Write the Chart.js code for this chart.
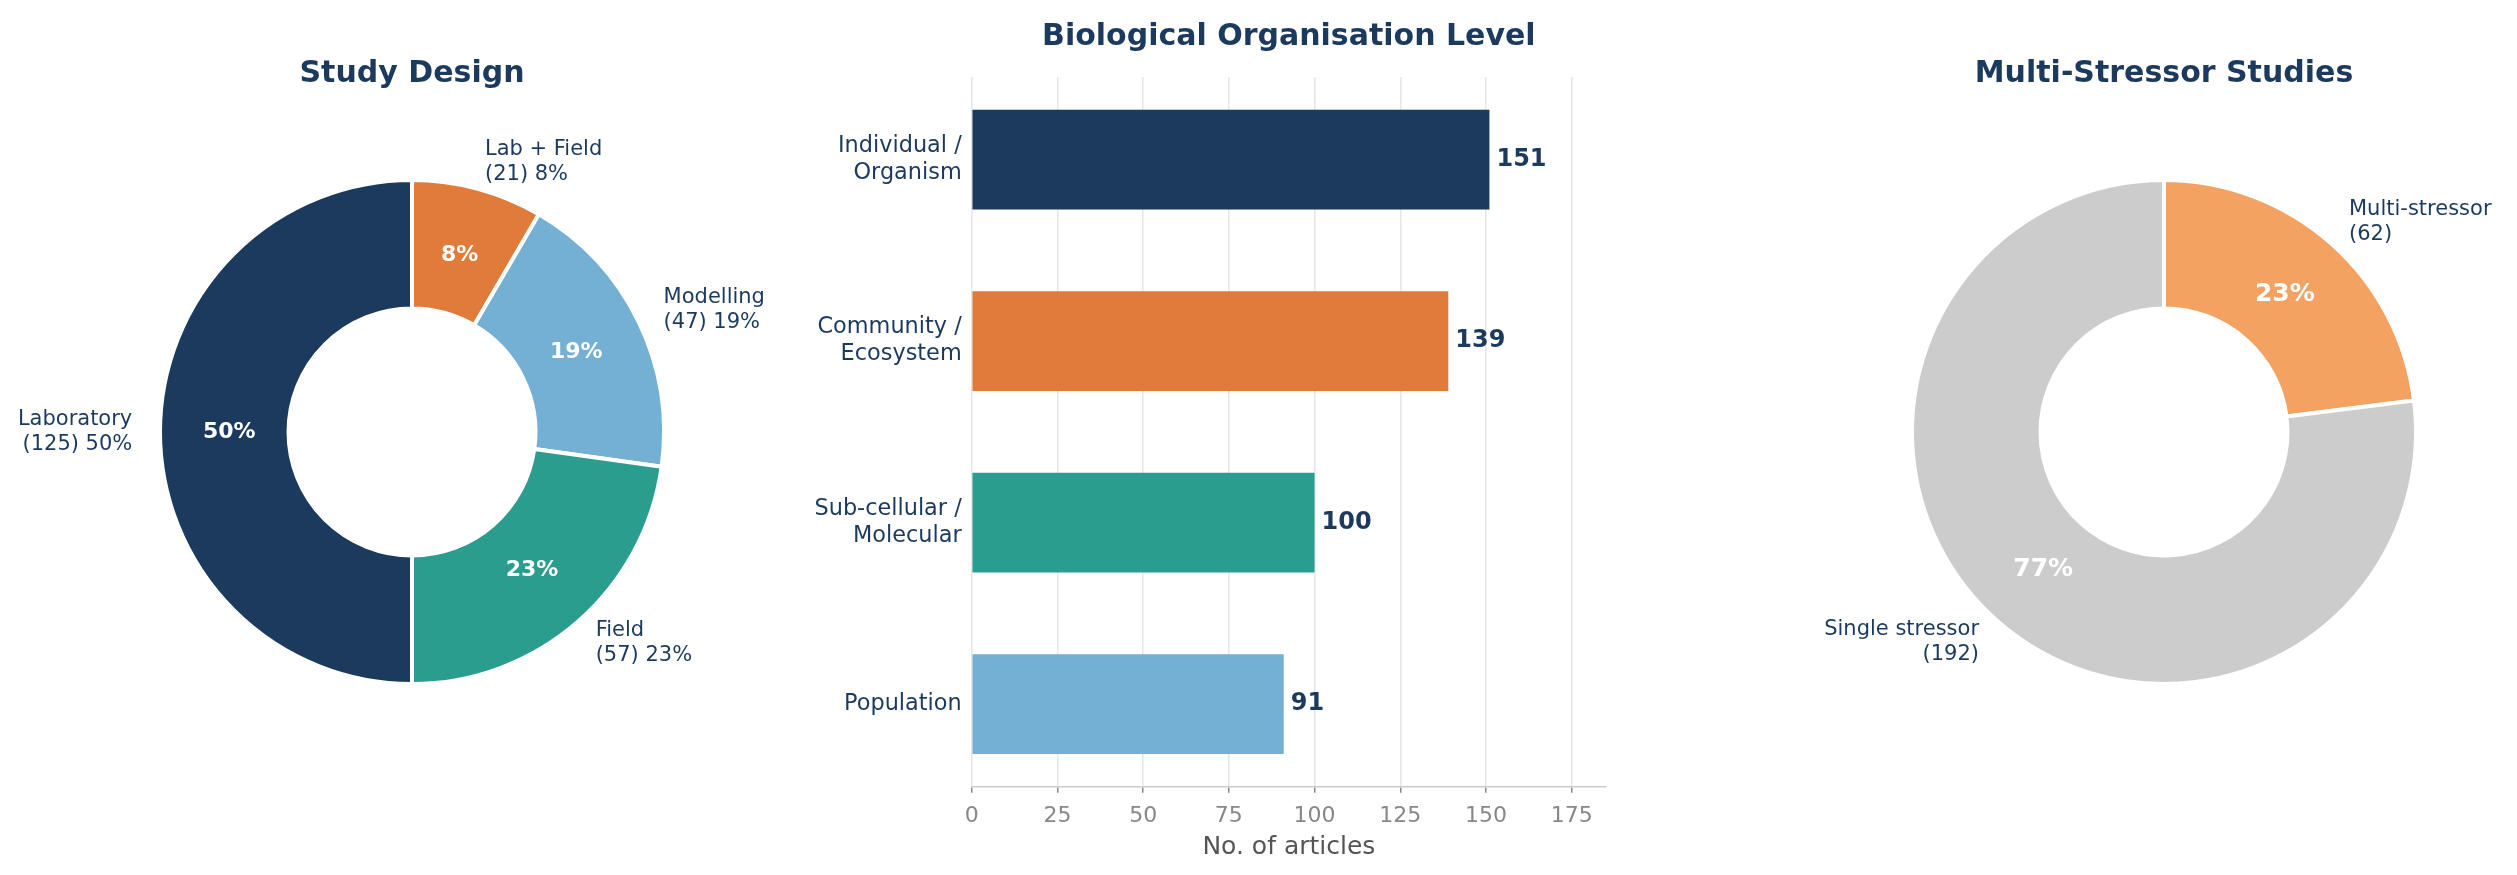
<!DOCTYPE html>
<html>
<head>
<meta charset="utf-8">
<script src="https://cdn.jsdelivr.net/npm/chart.js@4.4.1/dist/chart.umd.min.js"></script>
<style>
  html, body { margin: 0; padding: 0; background: #fff; }
  #wrap { position: relative; width: 2517px; height: 875px; overflow: hidden; }
  .panel { position: absolute; top: 0; height: 875px; }
</style>
</head>
<body>
<div id="wrap">
  <div class="panel" style="left:0;width:824px"><canvas id="designChart"></canvas></div>
  <div class="panel" style="left:1752px;width:765px"><canvas id="stressorChart"></canvas></div>
  <div class="panel" style="left:788px;width:1000px"><canvas id="levelChart"></canvas></div>
</div>
<script>
// Study design (clockwise from 12 o'clock)
const designNames = ["Lab + Field", "Modelling", "Field", "Laboratory"];
const designCounts = [21, 47, 57, 125];
const designColors = ["#e07b39", "#74afd4", "#2a9d8e", "#1b3a5e"];

// Biological organisation level
const levelNames = [["Individual /", "Organism"], ["Community /", "Ecosystem"], ["Sub-cellular /", "Molecular"], ["Population"]];
const levelCounts = [151, 139, 100, 91];
const levelColors = ["#1b3a5e", "#e07b39", "#2a9d8e", "#74afd4"];

// Multi-stressor studies
const stressorNames = ["Multi-stressor", "Single stressor"];
const stressorCounts = [62, 192];
const stressorShares = [23, 77];
const stressorColors = ["#f4a261", "#cccccc"];

const navy = "#1b3a5e";
Chart.defaults.font.family = "'DejaVu Sans', sans-serif";

// percent inside the ring + name outside, like matplotlib pie labels
function donutLabels(outerText, pctText, pctSize) {
    return {
        id: "donutLabels",
        afterDatasetsDraw(chart) {
            const ctx = chart.ctx;
            const arcs = chart.getDatasetMeta(0).data;
            ctx.save();
            arcs.forEach((arc, i) => {
                const p = arc.getProps(["x", "y", "startAngle", "endAngle", "outerRadius"]);
                const mid = (p.startAngle + p.endAngle) / 2;
                const cos = Math.cos(mid), sin = Math.sin(mid);

                ctx.font = "bold " + pctSize + "px 'DejaVu Sans'";
                ctx.fillStyle = "#ffffff";
                ctx.textAlign = "center";
                ctx.textBaseline = "middle";
                ctx.fillText(pctText[i], p.x + cos * p.outerRadius * 0.725, p.y + sin * p.outerRadius * 0.725);

                const lx = p.x + cos * p.outerRadius * 1.11;
                const ly = p.y + sin * p.outerRadius * 1.11;
                ctx.font = "21px 'DejaVu Sans'";
                ctx.fillStyle = navy;
                ctx.textAlign = cos >= 0 ? "left" : "right";
                const lines = outerText[i];
                lines.forEach((line, k) => {
                    ctx.fillText(line, lx, ly + (k - (lines.length - 1) / 2) * 25);
                });
            });
            ctx.restore();
        }
    };
}

function donutOptions(title, padLeft) {
    return {
        responsive: true,
        maintainAspectRatio: false,
        animation: false,
        radius: 252,
        cutout: "49%",
        layout: { padding: { left: padLeft, right: 0, top: 0, bottom: 103 } },
        plugins: {
            legend: { display: false },
            tooltip: { enabled: false },
            title: {
                display: true,
                text: title,
                color: navy,
                font: { size: 30, weight: "bold" },
                padding: { top: 56, bottom: 0 }
            }
        }
    };
}

// STUDY DESIGN
const designTotal = designCounts.reduce((a, b) => a + b, 0);
const designPct = designCounts.map(c => Math.round(c / designTotal * 100) + "%");
const designOuter = designNames.map((n, i) => [n, "(" + designCounts[i] + ") " + designPct[i]]);

new Chart(document.getElementById("designChart"), {
    type: "doughnut",
    data: {
        labels: designNames,
        datasets: [{
            data: designCounts,
            backgroundColor: designColors,
            borderColor: "#ffffff",
            borderWidth: 4
        }]
    },
    options: donutOptions("Study Design", 0),
    plugins: [donutLabels(designOuter, designPct, 22)]
});

// BIOLOGICAL ORGANISATION LEVEL
const barValues = {
    id: "barValues",
    afterDatasetsDraw(chart) {
        const ctx = chart.ctx;
        ctx.save();
        ctx.font = "bold 24px 'DejaVu Sans'";
        ctx.fillStyle = navy;
        ctx.textAlign = "left";
        ctx.textBaseline = "middle";
        chart.getDatasetMeta(0).data.forEach((bar, i) => {
            ctx.fillText(levelCounts[i], bar.x + 7, bar.y);
        });
        // title centred over the plot area, not the canvas
        const area = chart.chartArea;
        ctx.font = "bold 30px 'DejaVu Sans'";
        ctx.textAlign = "center";
        ctx.fillText("Biological Organisation Level", (area.left + area.right) / 2, area.top - 40);
        ctx.restore();
    }
};

new Chart(document.getElementById("levelChart"), {
    type: "bar",
    data: {
        datasets: [{
            data: levelCounts.map((v, i) => ({ x: v, y: i })),
            backgroundColor: levelColors,
            barPercentage: 0.55,
            categoryPercentage: 1
        }]
    },
    options: {
        indexAxis: "y",
        responsive: true,
        maintainAspectRatio: false,
        animation: false,
        layout: { padding: { left: 0, right: 182, top: 77, bottom: 13 } },
        plugins: {
            legend: { display: false },
            tooltip: { enabled: false }
        },
        scales: {
            x: {
                type: "linear",
                min: 0,
                max: 185,
                afterFit: s => { s.height = 75.3; },
                ticks: { stepSize: 25, includeBounds: false, color: "#888888", font: { size: 22 }, padding: 10 },
                grid: { color: "#e6e6e6", lineWidth: 1.5, tickLength: 6, tickColor: "#888888", tickWidth: 1.5 },
                border: { color: "#cccccc", width: 1.5 },
                title: { display: true, text: "No. of articles", color: "#555555", font: { size: 25 }, padding: 0 }
            },
            y: {
                type: "linear",
                reverse: true,
                offset: false,
                min: -0.455,
                max: 3.455,
                afterBuildTicks: s => { s.ticks = levelNames.map((_, i) => ({ value: i })); },
                afterFit: s => { s.width = 183.7; },
                ticks: { callback: v => levelNames[v], color: navy, font: { size: 22.4, lineHeight: 1.2 }, padding: 10 },
                grid: { display: false, drawTicks: false },
                border: { display: false }
            }
        }
    },
    plugins: [barValues]
});

// MULTI-STRESSOR STUDIES
const stressorPct = stressorShares.map(s => s + "%");
const stressorOuter = stressorNames.map((n, i) => [n, "(" + stressorCounts[i] + ")"]);

new Chart(document.getElementById("stressorChart"), {
    type: "doughnut",
    data: {
        labels: stressorNames,
        datasets: [{
            data: stressorShares,
            backgroundColor: stressorColors,
            borderColor: "#ffffff",
            borderWidth: 4
        }]
    },
    options: donutOptions("Multi-Stressor Studies", 59),
    plugins: [donutLabels(stressorOuter, stressorPct, 25)]
});
</script>
</body>
</html>
